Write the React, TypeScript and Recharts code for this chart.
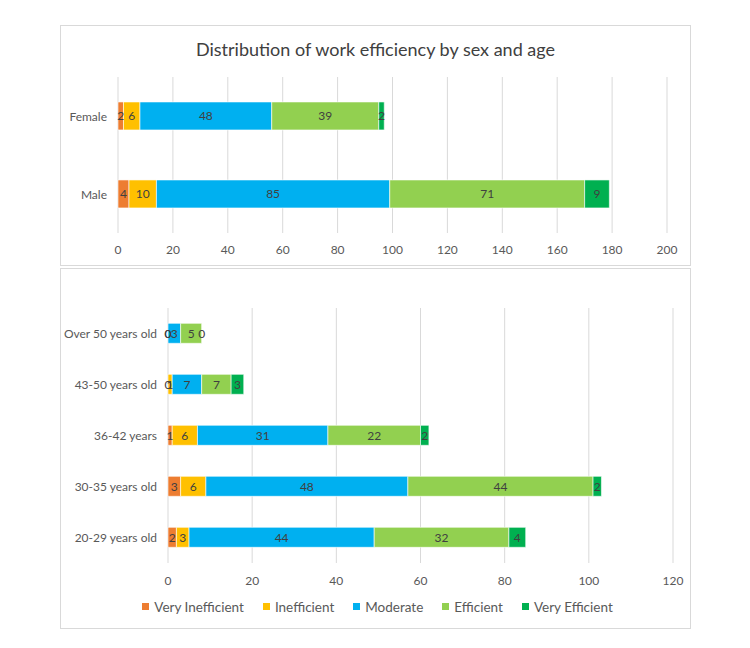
import React from "react";
import { BarChart, Bar, XAxis, YAxis, CartesianGrid, LabelList, Legend, ReferenceDot } from "recharts";

const seriesNames = ["Very Inefficient", "Inefficient", "Moderate", "Efficient", "Very Efficient"];
const seriesColors = ["#ED7D31", "#FFC000", "#00B0F0", "#92D050", "#00B050"];

const sexCategories = ["Female", "Male"];
const sexVeryInefficient = [2, 4];
const sexInefficient = [6, 10];
const sexModerate = [48, 85];
const sexEfficient = [39, 71];
const sexVeryEfficient = [2, 9];
const sexTicks = [0, 20, 40, 60, 80, 100, 120, 140, 160, 180, 200];

const ageCategories = ["Over 50 years old", "43-50 years old", "36-42 years", "30-35 years old", "20-29 years old"];
const ageVeryInefficient = [0, 0, 1, 3, 2];
const ageInefficient = [0, 1, 6, 6, 3];
const ageModerate = [3, 7, 31, 48, 44];
const ageEfficient = [5, 7, 22, 44, 32];
const ageVeryEfficient = [0, 3, 2, 2, 4];
const ageTicks = [0, 20, 40, 60, 80, 100, 120];

const keys = ["vi", "i", "m", "e", "ve"];

function buildRows(cats: string[], cols: number[][]) {
  return cats.map((c, idx) => {
    const row: Record<string, any> = { name: c };
    keys.forEach((k, j) => (row[k] = cols[j][idx]));
    return row;
  });
}

const sexData = buildRows(sexCategories, [sexVeryInefficient, sexInefficient, sexModerate, sexEfficient, sexVeryEfficient]);
const ageData = buildRows(ageCategories, [ageVeryInefficient, ageInefficient, ageModerate, ageEfficient, ageVeryEfficient]);

const FONT = "Lato, 'Open Sans', sans-serif";
const tickStyle = { fill: "#595959", fontSize: 12, fontFamily: FONT };

function CatTick(props: any) {
  const { x, y, payload } = props;
  return (
    <text
      x={x - 3}
      y={y}
      textAnchor="end"
      dominantBaseline="central"
      fill="#595959"
      fontSize={12}
      fontFamily={FONT}
    >
      {payload.value}
    </text>
  );
}

function LegendContent() {
  return (
    <div
      style={{
        textAlign: "center",
        fontFamily: FONT,
        fontSize: 13.5,
        color: "#595959",
        lineHeight: "18px",
        paddingLeft: 22,
      }}
    >
      {seriesNames.map((n, j) => (
        <span
          key={n}
          style={{ display: "inline-flex", alignItems: "center", marginRight: j < seriesNames.length - 1 ? 19 : 0 }}
        >
          <span style={{ display: "inline-block", width: 7, height: 7, background: seriesColors[j], marginRight: 5 }} />
          <span>{n}</span>
        </span>
      ))}
    </div>
  );
}

function renderBars() {
  return keys.map((k, j) => (
    <Bar
      key={k}
      dataKey={k}
      name={seriesNames[j]}
      stackId="s"
      fill={seriesColors[j]}
      stroke="#ffffff"
      strokeWidth={0.6}
      isAnimationActive={false}
    >
      <LabelList dataKey={k} position="center" fill="#404040" fontSize={12} fontFamily={FONT} />
    </Bar>
  ));
}

function renderZeroLabels(rows: Record<string, any>[]) {
  const out: React.ReactNode[] = [];
  rows.forEach((row) => {
    let cum = 0;
    keys.forEach((k) => {
      const v = row[k];
      if (v === 0) {
        out.push(
          <ReferenceDot
            key={row.name + k}
            x={cum}
            y={row.name}
            r={0}
            fill="none"
            stroke="none"
            ifOverflow="visible"
            label={{ value: "0", position: "center", fill: "#404040", fontSize: 12, fontFamily: FONT }}
          />
        );
      }
      cum += v;
    });
  });
  return out;
}

export default function App() {
  return (
    <div style={{ position: "absolute", left: 0, top: 0, width: 750, height: 648, background: "#fff", fontFamily: FONT }}>
      <div
        style={{
          position: "absolute",
          left: 60,
          top: 25,
          width: 629,
          height: 239,
          border: "1px solid #d9d9d9",
          boxSizing: "content-box",
        }}
      >
        <div
          style={{
            position: "absolute",
            left: 0,
            top: 12,
            width: "100%",
            textAlign: "center",
            fontSize: 18,
            color: "#404040",
            fontFamily: FONT,
          }}
        >
          Distribution of work efficiency by sex and age
        </div>
        <div style={{ position: "absolute", left: -1, top: -1 }}>
          <BarChart
            width={630}
            height={240}
            data={sexData}
            layout="vertical"
            margin={{ top: 52, right: 23, bottom: 7, left: 0 }}
            barCategoryGap="32%"
          >
            <CartesianGrid horizontal={false} stroke="#d9d9d9" />
            <XAxis
              type="number"
              domain={[0, 200]}
              ticks={sexTicks}
              axisLine={false}
              tickLine={false}
              tick={tickStyle}
              tickMargin={6}
              height={25}
              interval={0}
            />
            <YAxis
              type="category"
              dataKey="name"
              width={58}
              axisLine={false}
              tickLine={false}
              tick={<CatTick />}
            />
            {renderBars()}
            {renderZeroLabels(sexData)}
          </BarChart>
        </div>
      </div>

      <div
        style={{
          position: "absolute",
          left: 60,
          top: 268,
          width: 629,
          height: 359,
          border: "1px solid #d9d9d9",
          boxSizing: "content-box",
        }}
      >
        <div style={{ position: "absolute", left: -1, top: -1 }}>
          <BarChart
            width={630}
            height={360}
            data={ageData}
            layout="vertical"
            margin={{ top: 40, right: 17, bottom: 16, left: 0 }}
            barCategoryGap="30%"
          >
            <CartesianGrid horizontal={false} stroke="#d9d9d9" />
            <XAxis
              type="number"
              domain={[0, 120]}
              ticks={ageTicks}
              axisLine={false}
              tickLine={false}
              tick={tickStyle}
              tickMargin={7}
              height={33}
              interval={0}
            />
            <YAxis
              type="category"
              dataKey="name"
              width={108}
              axisLine={false}
              tickLine={false}
              tick={<CatTick />}
            />
            <Legend verticalAlign="bottom" align="center" height={16} content={<LegendContent />} />
            {renderBars()}
            {renderZeroLabels(ageData)}
          </BarChart>
        </div>
      </div>
    </div>
  );
}
